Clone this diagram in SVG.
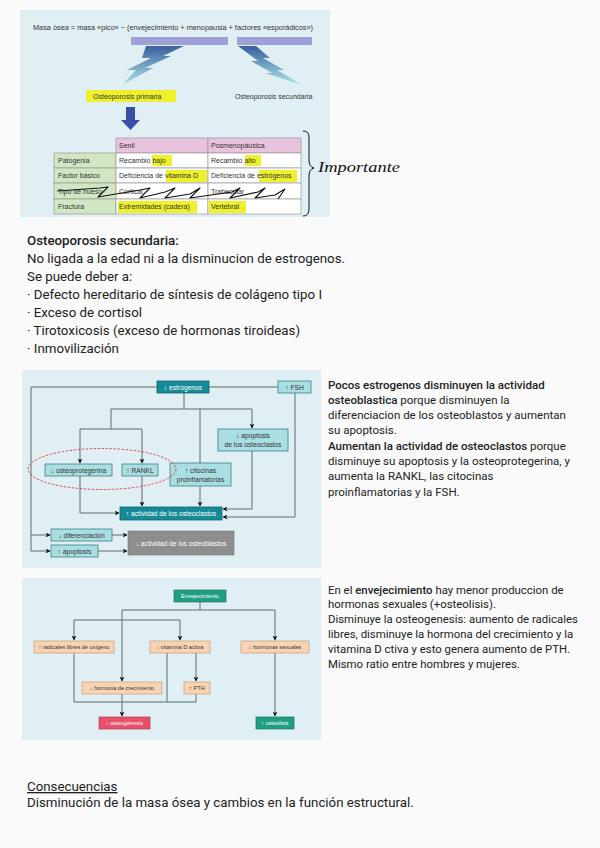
<svg xmlns="http://www.w3.org/2000/svg" width="600" height="848" viewBox="0 0 600 848">
<defs>
<style>
.bg{fill:#fafafa}
.panel{fill:#dfeff3}
.ft{font-family:"Liberation Sans",Arial,sans-serif;fill:#333}
.f7{font-size:7px}
.f65{font-size:6.7px}
.f55{font-size:5.6px}
.mid{text-anchor:middle}
.wt{fill:#fff}
.body{font-family:Roboto,"Noto Sans",sans-serif;fill:#222}
.b5{font-weight:500}
.ln{fill:none;stroke:#5f6f6f;stroke-width:1}
.dk{fill:#168b97;stroke:#0d6670;stroke-width:0.8}
.lt{fill:#a9dee2;stroke:#3d8088;stroke-width:0.8}
.gr{fill:#8e8e8e;stroke:#777;stroke-width:0.6}
.pe{fill:#f9d3b2;stroke:#c79d7e;stroke-width:0.7}
.gn{fill:#1f9e82;stroke:#157a62;stroke-width:0.7}
.rd{fill:#e8506a;stroke:#b83a50;stroke-width:0.7}
.hl{fill:#eef02c}
.cell{fill:#fff;stroke:#999;stroke-width:0.7}
.lab{fill:#d3e6c4;stroke:#999;stroke-width:0.7}
.hd{fill:#e9c3dd;stroke:#999;stroke-width:0.7}
</style>
<marker id="ah" viewBox="0 0 10 10" refX="9" refY="5" markerWidth="5" markerHeight="5" orient="auto" markerUnits="userSpaceOnUse">
<path d="M0,0 L10,5 L0,10 L3,5 z" fill="#111"/>
</marker>
<linearGradient id="bolt" x1="0" y1="0" x2="0" y2="1">
<stop offset="0" stop-color="#3a5f9c"/>
<stop offset="1" stop-color="#aee6ea"/>
</linearGradient>
</defs>
<rect class="bg" x="0" y="0" width="600" height="848"/>

<!-- Top figure -->
<g id="fig1">
<rect class="panel" x="20" y="10" width="310" height="207"/>
<text class="ft f7" x="33" y="30" textLength="280" lengthAdjust="spacingAndGlyphs">Masa ósea = masa «pico» − (envejecimiento + menopausia + factores «esporádicos»)</text>
<rect x="131" y="37" width="97" height="8" fill="#9fa0d8"/>
<rect x="237" y="37" width="75" height="8" fill="#9fa0d8"/>
<polygon points="146,46 184,46 163,56 171,56 145,68 153,68 122,85 136,70 127,70 151,58 142,58" fill="url(#bolt)"/>
<polygon points="238,46 256,46 270,58 263,58 284,70 277,70 302,85 265,73 272,73 251,61 258,61" fill="url(#bolt)"/>
<rect class="hl" x="86" y="90" width="90" height="12"/>
<text class="ft f7" x="93" y="98.5">Osteoporosis primaria</text>
<text class="ft f7" x="235" y="98.5">Osteoporosis secundaria</text>
<polygon points="126,107 135,107 135,120 140,120 130.5,130 121,120 126,120" fill="#3a4faa"/>
</g>

<g id="table">
<rect class="hd" x="116" y="138" width="92" height="15"/>
<rect class="hd" x="208" y="138" width="93" height="15"/>
<rect class="lab" x="54" y="153" width="62" height="15"/>
<rect class="lab" x="54" y="168" width="62" height="15"/>
<rect class="lab" x="54" y="183" width="62" height="16"/>
<rect class="lab" x="54" y="199" width="62" height="15"/>
<rect class="cell" x="116" y="153" width="92" height="15"/>
<rect class="cell" x="208" y="153" width="93" height="15"/>
<rect class="cell" x="116" y="168" width="92" height="15"/>
<rect class="cell" x="208" y="168" width="93" height="15"/>
<rect class="cell" x="116" y="183" width="92" height="16"/>
<rect class="cell" x="208" y="183" width="93" height="16"/>
<rect class="cell" x="116" y="199" width="92" height="15"/>
<rect class="cell" x="208" y="199" width="93" height="15"/>
<rect class="hl" x="152" y="155" width="20" height="11"/>
<rect class="hl" x="245" y="155" width="16" height="11"/>
<rect class="hl" x="166" y="170" width="41" height="12"/>
<rect class="hl" x="259" y="170" width="38" height="12"/>
<rect class="hl" x="118" y="201" width="79" height="12"/>
<rect class="hl" x="209" y="201" width="37" height="12"/>
<text class="ft f7" x="119" y="148">Senil</text>
<text class="ft f7" x="211" y="148">Posmenopáusica</text>
<text class="ft f7" x="58" y="163">Patogenia</text>
<text class="ft f7" x="58" y="178">Factor básico</text>
<text class="ft f7" x="58" y="194">Tipo de hueso</text>
<text class="ft f7" x="58" y="209">Fractura</text>
<text class="ft f7" x="119" y="163">Recambio bajo</text>
<text class="ft f7" x="211" y="163">Recambio alto</text>
<text class="ft f7" x="119" y="178">Deficiencia de vitamina D</text>
<text class="ft f7" x="211" y="178">Deficiencia de estrógenos</text>
<text class="ft f7" x="119" y="194">Cortical</text>
<text class="ft f7" x="211" y="194">Trabecular</text>
<text class="ft f7" x="119" y="209">Extremidades (cadera)</text>
<text class="ft f7" x="211" y="209">Vertebral</text>
<path d="M57,191 L100,188 L108,187 L98,197 L140,190 L150,188 L140,198 L165,192 L175,188 L165,198 L190,194 L200,188 L190,198 L232,192 L240,188 L230,198 L258,192 L265,188 L255,198 L275,195 L285,189 L278,199" fill="none" stroke="#111" stroke-width="1.1" stroke-linejoin="round"/>
</g>

<g id="note">
<path d="M303,131 Q309,131 309,137 L309,160 Q309,167 314,168 Q309,169 309,176 L309,209 Q309,216 303,216" fill="none" stroke="#111" stroke-width="1"/>
<text x="318" y="172" font-family="'Liberation Serif',serif" font-style="italic" font-size="15" fill="#111" textLength="82" lengthAdjust="spacingAndGlyphs">Importante</text>
</g>

<!-- Section text 1 -->
<g id="text1" class="body" font-size="13.3">
<text class="b5" x="27" y="245">Osteoporosis secundaria:</text>
<text x="27" y="263">No ligada a la edad ni a la disminucion de estrogenos.</text>
<text x="27" y="281">Se puede deber a:</text>
<text x="27" y="299">· Defecto hereditario de síntesis de colágeno tipo I</text>
<text x="27" y="317">· Exceso de cortisol</text>
<text x="27" y="335">· Tirotoxicosis (exceso de hormonas tiroideas)</text>
<text x="27" y="353">· Inmovilización</text>
</g>

<!-- Middle figure -->
<rect class="panel" x="22" y="370" width="299" height="198"/>
<g id="connectors2">
<path class="ln" d="M157,387 H31 V551"/>
<path class="ln" d="M31,535 H50" marker-end="url(#ah)"/>
<path class="ln" d="M31,551 H50" marker-end="url(#ah)"/>
<path class="ln" d="M209,387 H278"/>
<path class="ln" d="M184,393 V409 M111,409 H252"/>
<path class="ln" d="M252,409 V428" marker-end="url(#ah)"/>
<path class="ln" d="M111,409 V429 M80,429 H142"/>
<path class="ln" d="M80,429 V463" marker-end="url(#ah)"/>
<path class="ln" d="M142,429 V463" marker-end="url(#ah)"/>
<path class="ln" d="M200,409 V463"/>
<path class="ln" d="M80,476 V513 H119" marker-end="url(#ah)"/>
<path class="ln" d="M142,476 V506" marker-end="url(#ah)"/>
<path class="ln" d="M200,486 V506" marker-end="url(#ah)"/>
<path class="ln" d="M252,451 V509 H223" marker-end="url(#ah)"/>
<path class="ln" d="M295,393 V517 H223" marker-end="url(#ah)"/>
<path class="ln" d="M112,535 H127" marker-end="url(#ah)"/>
<path class="ln" d="M98,551 H127" marker-end="url(#ah)"/>
</g>
<g id="n-estrogenos"><rect class="dk" x="157" y="381" width="52" height="12"/><text class="ft f65 mid wt" x="183" y="389.5">↓ estrógenos</text></g>
<g id="n-fsh"><rect class="lt" x="278" y="381" width="33" height="12"/><text class="ft f65 mid" x="294.5" y="389.5">↑ FSH</text></g>
<g id="n-apopoc"><rect class="lt" x="218" y="429" width="70" height="22"/><text class="ft f65 mid" x="253" y="438">↓ apoptosis</text><text class="ft f65 mid" x="253" y="447">de los osteoclastos</text></g>
<g id="n-opg"><rect class="lt" x="45" y="464" width="67" height="12"/><text class="ft f65 mid" x="78.5" y="472.5">↓ osteoprotegerina</text></g>
<g id="n-rankl"><rect class="lt" x="122" y="464" width="36" height="12"/><text class="ft f65 mid" x="140" y="472.5">↑ RANKL</text></g>
<g id="n-cito"><rect class="lt" x="170" y="463" width="61" height="23"/><text class="ft f65 mid" x="200.5" y="472.5">↑ citocinas</text><text class="ft f65 mid" x="200.5" y="481.5">proinflamatorias</text></g>
<g id="n-actoc"><rect class="dk" x="120" y="507" width="102" height="13"/><text class="ft f65 mid wt" x="171" y="516">↑ actividad de los osteoclastos</text></g>
<g id="n-dif"><rect class="lt" x="51" y="529" width="61" height="12"/><text class="ft f65 mid" x="81.5" y="537.5">↓ diferenciación</text></g>
<g id="n-apopob"><rect class="lt" x="51" y="545" width="47" height="12"/><text class="ft f65 mid" x="74.5" y="553.5">↑ apoptosis</text></g>
<g id="n-actob"><rect class="gr" x="128" y="531" width="106" height="24"/><text class="ft f65 mid wt" x="181" y="545.5">↓ actividad de los osteoblastos</text></g>
<ellipse cx="102" cy="469" rx="74" ry="20.5" fill="none" stroke="#e02828" stroke-width="0.8" stroke-dasharray="2.5,1.5"/>

<g id="text2" class="body" font-size="11.5">
<text class="b5" x="328" y="389">Pocos estrogenos disminuyen la actividad</text>
<text x="328" y="404"><tspan class="b5">osteoblastica</tspan> porque disminuyen la</text>
<text x="328" y="419">diferenciacion de los osteoblastos y aumentan</text>
<text x="328" y="434">su apoptosis.</text>
<text x="328" y="450"><tspan class="b5">Aumentan la actividad de osteoclastos</tspan> porque</text>
<text x="328" y="465">disminuye su apoptosis y la osteoprotegerina, y</text>
<text x="328" y="480">aumenta la RANKL, las citocinas</text>
<text x="328" y="496">proinflamatorias y la FSH.</text>
</g>

<!-- Bottom figure -->
<rect class="panel" x="22" y="578" width="299" height="162"/>
<g id="connectors3">
<path class="ln" d="M200,602 V610 M122,610 H275"/>
<path class="ln" d="M275,610 V640" marker-end="url(#ah)"/>
<path class="ln" d="M122,610 V681" marker-end="url(#ah)"/>
<path class="ln" d="M74,620 H180"/>
<path class="ln" d="M74,620 V640" marker-end="url(#ah)"/>
<path class="ln" d="M180,620 V640" marker-end="url(#ah)"/>
<path class="ln" d="M74,653 V702 H196"/>
<path class="ln" d="M167,653 V702"/>
<path class="ln" d="M196,653 V681" marker-end="url(#ah)"/>
<path class="ln" d="M196,694 V702"/>
<path class="ln" d="M122,694 V716" marker-end="url(#ah)"/>
<path class="ln" d="M275,653 V716" marker-end="url(#ah)"/>
</g>
<g id="n-env"><rect class="gn" x="174" y="590" width="52" height="12"/><text class="ft f55 mid wt" x="200" y="598">Envejecimiento</text></g>
<g id="n-rad"><rect class="pe" x="34" y="641" width="80" height="12"/><text class="ft f55 mid" x="74" y="649">↑ radicales libres de oxígeno</text></g>
<g id="n-vitd"><rect class="pe" x="150" y="641" width="60" height="12"/><text class="ft f55 mid" x="180" y="649">↓ vitamina D activa</text></g>
<g id="n-hsex"><rect class="pe" x="241" y="641" width="68" height="12"/><text class="ft f55 mid" x="275" y="649">↓ hormonas sexuales</text></g>
<g id="n-hgh"><rect class="pe" x="82" y="682" width="80" height="12"/><text class="ft f55 mid" x="122" y="690">↓ hormona de crecimiento</text></g>
<g id="n-pth"><rect class="pe" x="184" y="682" width="26" height="12"/><text class="ft f55 mid" x="197" y="690">↑ PTH</text></g>
<g id="n-osteog"><rect class="rd" x="99" y="717" width="51" height="12"/><text class="ft f55 mid wt" x="124.5" y="725">↓ osteogénesis</text></g>
<g id="n-osteol"><rect class="gn" x="256" y="717" width="38" height="12"/><text class="ft f55 mid wt" x="275" y="725">↑ osteólisis</text></g>

<g id="text3" class="body" font-size="11.4">
<text x="328" y="594">En el <tspan class="b5">envejecimiento</tspan> hay menor produccion de</text>
<text x="328" y="608">hormonas sexuales (+osteolisis).</text>
<text x="328" y="623">Disminuye la osteogenesis: aumento de radicales</text>
<text x="328" y="638">libres, disminuye la hormona del crecimiento y la</text>
<text x="328" y="653">vitamina D ctiva y esto genera aumento de PTH.</text>
<text x="328" y="668">Mismo ratio entre hombres y mujeres.</text>
</g>

<g id="text4" class="body" font-size="13.3">
<text x="27" y="791" text-decoration="underline">Consecuencias</text>
<text x="27" y="807">Disminución de la masa ósea y cambios en la función estructural.</text>
</g>
</svg>
